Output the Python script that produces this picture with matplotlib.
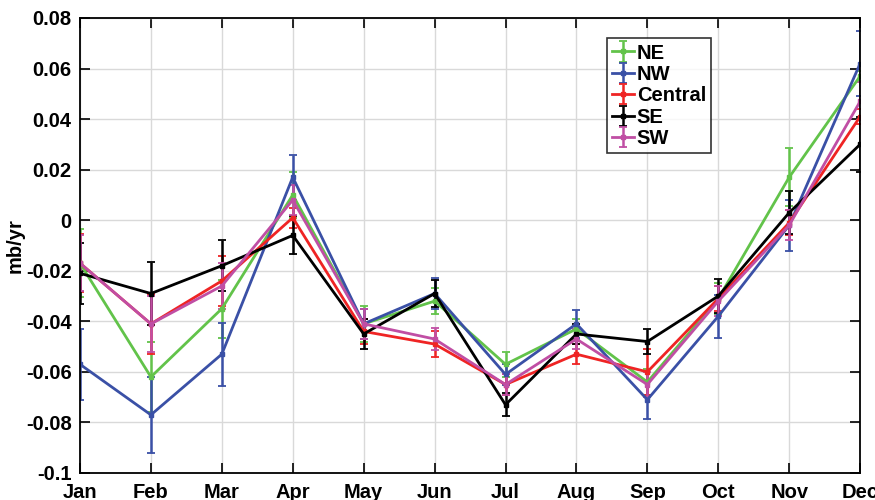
import numpy as np
import matplotlib
matplotlib.use("Agg")
import matplotlib.pyplot as plt

# ----- DATA -----
months = ["Jan", "Feb", "Mar", "Apr", "May", "Jun",
          "Jul", "Aug", "Sep", "Oct", "Nov", "Dec"]

ne = [-0.017, -0.062, -0.035, 0.010, -0.041, -0.032, -0.057, -0.043, -0.064, -0.031, 0.017, 0.057]
ne_err = [0.0135, 0.014, 0.0115, 0.009, 0.007, 0.005, 0.005, 0.004, 0.005, 0.006, 0.0115, 0.002]

nw = [-0.057, -0.077, -0.053, 0.017, -0.041, -0.029, -0.061, -0.041, -0.071, -0.038, -0.002, 0.062]
nw_err = [0.014, 0.015, 0.0125, 0.009, 0.006, 0.006, 0.004, 0.0055, 0.0075, 0.0085, 0.010, 0.013]

central = [-0.017, -0.041, -0.024, 0.001, -0.044, -0.049, -0.065, -0.053, -0.060, -0.031, -0.001, 0.041]
central_err = [0.0115, 0.012, 0.010, 0.004, 0.005, 0.005, 0.004, 0.004, 0.009, 0.005, 0.005, 0.003]

se = [-0.021, -0.029, -0.018, -0.006, -0.045, -0.029, -0.073, -0.045, -0.048, -0.030, 0.003, 0.030]
se_err = [0.012, 0.0123, 0.010, 0.0075, 0.006, 0.0055, 0.0045, 0.004, 0.005, 0.0066, 0.0086, 0.011]

sw = [-0.017, -0.041, -0.026, 0.008, -0.041, -0.047, -0.065, -0.047, -0.065, -0.032, -0.002, 0.047]
sw_err = [0.011, 0.011, 0.009, 0.006, 0.006, 0.0045, 0.004, 0.004, 0.005, 0.006, 0.006, 0.0075]

series = [
    ("NE", ne, ne_err, "#62c34a"),
    ("NW", nw, nw_err, "#3a50a6"),
    ("Central", central, central_err, "#ef2424"),
    ("SE", se, se_err, "#000000"),
    ("SW", sw, sw_err, "#c04ea4"),
]

# ----- PLOT -----
plt.rcParams["font.family"] = ["Liberation Sans", "DejaVu Sans"]
plt.rcParams["font.weight"] = "bold"

fig = plt.figure(figsize=(8.75, 5.0), dpi=100)
ax = fig.add_axes([0.0914, 0.054, 0.8916, 0.910])

x = np.arange(len(months))
for name, vals, err, col in series:
    ax.errorbar(x, vals, yerr=err, color=col, lw=2, marker="s", ms=3.5,
                capsize=3, capthick=1.3, elinewidth=1.8, label=name)

ax.set_xlim(0, 11)
ax.set_ylim(-0.1, 0.08)
ax.set_xticks(x)
ax.set_xticklabels(months)
ax.set_yticks(np.arange(-0.1, 0.081, 0.02))
ax.set_yticklabels(["-0.1", "-0.08", "-0.06", "-0.04", "-0.02", "0",
                    "0.02", "0.04", "0.06", "0.08"])

ax.grid(True, color="#d9d9d9", lw=1)
ax.set_axisbelow(True)
ax.tick_params(direction="in", length=7, width=1.2, top=True, right=True,
               labelsize=14.5)
ax.tick_params(axis="x", pad=7)
ax.tick_params(axis="y", pad=6)
for sp in ax.spines.values():
    sp.set_linewidth(1.3)

ax.set_ylabel("mb/yr", fontsize=14.5, fontweight="bold")
ax.yaxis.set_label_coords(-0.071, 0.5)

leg = ax.legend(loc="upper left", bbox_to_anchor=(0.675, 0.955), fontsize=14.5,
                frameon=True, fancybox=False, edgecolor="black",
                handlelength=1.1, handletextpad=0.15, borderpad=0.25,
                labelspacing=0.12, borderaxespad=0)
leg.get_frame().set_linewidth(1.2)

plt.savefig("out.png", dpi=100)
